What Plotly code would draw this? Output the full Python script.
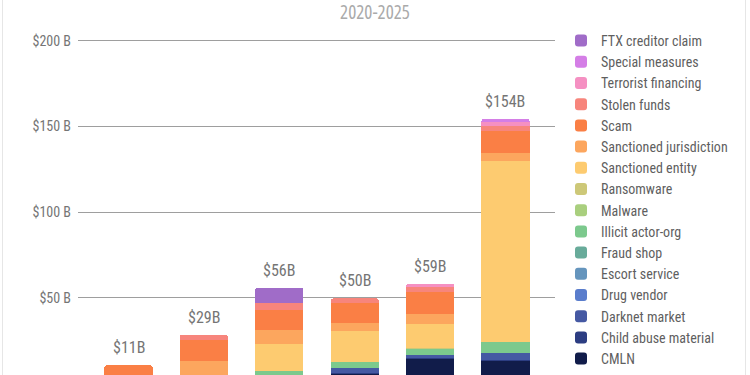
import plotly.graph_objects as go

years = ["2020", "2021", "2022", "2023", "2024", "2025"]
total_labels = ["$11B", "$29B", "$56B", "$50B", "$59B", "$154B"]
totals = [10.6, 28.5, 55.9, 49.6, 58.3, 154.5]

# series in stacking order (bottom -> top), values in $ billions
cmln = [0.6, 1.0, 2.0, 5.8, 14.5, 13.5]
child_abuse = [0.1, 0.1, 0.2, 0.2, 0.1, 0.4]
darknet = [1.7, 2.4, 1.3, 3.2, 1.8, 3.8]
drug_vendor = [0.1, 0.1, 0.0, 0.0, 0.0, 0.0]
escort = [0.0, 0.0, 0.0, 0.0, 0.0, 0.0]
fraud_shop = [0.0, 0.0, 0.0, 0.0, 0.0, 0.0]
illicit_actor = [0.0, 0.0, 3.7, 3.3, 3.9, 6.5]
malware = [0.1, 0.1, 0.0, 0.0, 0.0, 0.0]
ransomware = [0.4, 0.6, 0.2, 0.2, 0.2, 0.2]
sanct_entity = [0.0, 0.0, 15.5, 18.0, 14.0, 105.6]
sanct_juris = [0.0, 8.6, 8.2, 4.6, 6.0, 4.6]
scam = [7.6, 12.3, 11.7, 11.4, 13.0, 13.0]
stolen = [0.0, 3.3, 3.9, 2.9, 2.6, 2.8]
terrorist = [0.0, 0.0, 0.0, 0.0, 2.2, 2.2]
special = [0.0, 0.0, 0.0, 0.0, 0.0, 1.9]
ftx = [0.0, 0.0, 9.2, 0.0, 0.0, 0.0]

series = [
    ("CMLN", cmln, "#111c4a"),
    ("Child abuse material", child_abuse, "#2c3d82"),
    ("Darknet market", darknet, "#4559a3"),
    ("Drug vendor", drug_vendor, "#5a7dcc"),
    ("Escort service", escort, "#6595bd"),
    ("Fraud shop", fraud_shop, "#68ab9a"),
    ("Illicit actor-org", illicit_actor, "#7cc98d"),
    ("Malware", malware, "#a9cf7e"),
    ("Ransomware", ransomware, "#cdc878"),
    ("Sanctioned entity", sanct_entity, "#fdcb70"),
    ("Sanctioned jurisdiction", sanct_juris, "#fca65e"),
    ("Scam", scam, "#fa7f45"),
    ("Stolen funds", stolen, "#f7857c"),
    ("Terrorist financing", terrorist, "#f590c2"),
    ("Special measures", special, "#d47ee6"),
    ("FTX creditor claim", ftx, "#a06cc8"),
]

yticks = [50, 100, 150, 200]
yticklabels = ["$50 B", "$100 B", "$150 B", "$200 B"]

FONT = "Roboto Condensed, Roboto, Liberation Sans, Arial, sans-serif"

fig = go.Figure()
for name, vals, color in series:
    fig.add_trace(go.Bar(x=years, y=vals, name=name, marker=dict(color=color, line=dict(width=0)),
                         hoverinfo="skip"))

for i, (tot, lab) in enumerate(zip(totals, total_labels)):
    fig.add_annotation(x=i, y=tot, text=lab, showarrow=False, yanchor="bottom", yshift=6,
                       font=dict(family=FONT, size=16, color="#757575"))

fig.update_layout(
    width=750, height=375,
    margin=dict(l=78, r=195, t=0, b=0, pad=0),
    paper_bgcolor="white", plot_bgcolor="white",
    barmode="stack", bargap=0.36, barcornerradius=3,
    showlegend=True,
    title=dict(text='<span style="font-stretch:condensed">2020-2025</span>', x=0.5, xref="container",
               y=1 - 12.5 / 375, yref="container", xanchor="center", yanchor="middle",
               font=dict(family="Open Sans", size=19, color="#aaaaaa")),
    legend=dict(x=(561 - 78) / 477, xanchor="left", y=1 - 28 / 375, yanchor="top",
                traceorder="reversed", font=dict(family=FONT, size=14, color="#5f5f5f"),
                bgcolor="rgba(0,0,0,0)", borderwidth=0),
    xaxis=dict(type="category", range=[-0.67, 5.657], showticklabels=False, showgrid=False,
               zeroline=False, showline=False, ticks=""),
    yaxis=dict(range=[4.85, 223.9], tickvals=yticks, ticktext=yticklabels, showgrid=True,
               gridcolor="#9e9e9e", gridwidth=1, zeroline=False, showline=False, ticks="",
               ticklabelstandoff=6, tickfont=dict(family=FONT, size=14, color="#757575")),
    shapes=[
        dict(type="line", xref="paper", yref="paper", x0=(2.5 - 78) / 477, x1=(2.5 - 78) / 477,
             y0=-0.1, y1=1.1, line=dict(color="#e6e6e6", width=1)),
        dict(type="line", xref="paper", yref="paper", x0=(745.5 - 78) / 477, x1=(745.5 - 78) / 477,
             y0=-0.1, y1=1.1, line=dict(color="#e6e6e6", width=1)),
    ],
)

fig.write_html("out.html", config={"displayModeBar": False},
               post_script="document.body.style.margin='0';")
